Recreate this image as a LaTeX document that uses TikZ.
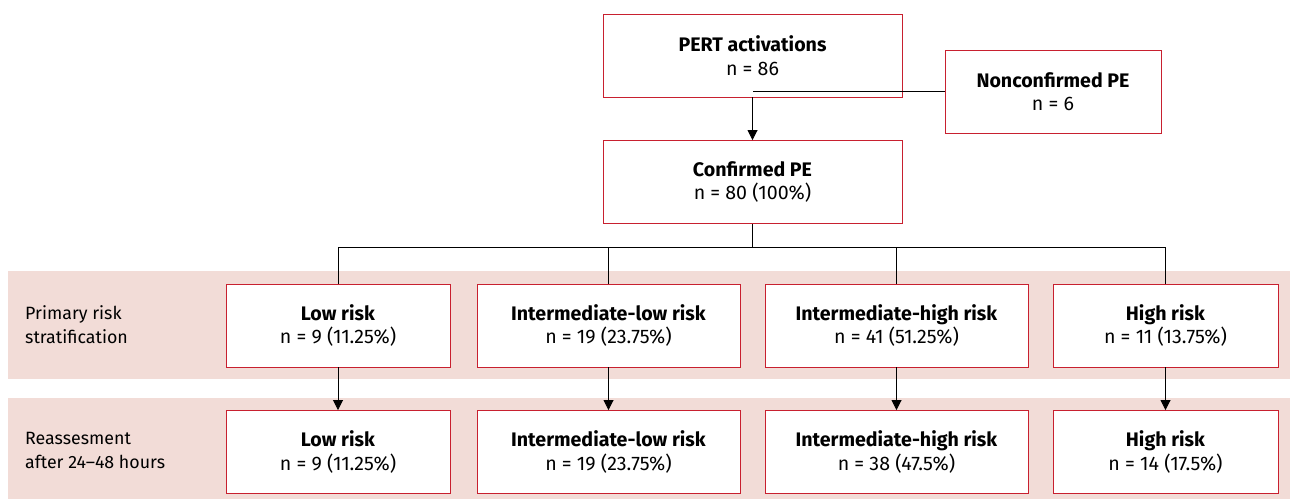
\documentclass[tikz,border=0pt]{standalone}
\usepackage{fontspec}
\setmainfont{Fira Sans}
\usetikzlibrary{arrows.meta}
\definecolor{boxred}{HTML}{C8202F}
\definecolor{bandfill}{HTML}{F2DCD7}
\begin{document}
\begin{tikzpicture}[x=1pt,y=-1pt,
  box/.style={draw=boxred, fill=white, line width=0.9pt, align=center, inner sep=0pt,
    minimum height=83pt, font=\fontsize{19.6}{23.5}\selectfont},
  band/.style={fill=bandfill, draw=none},
  lbl/.style={align=left, anchor=west, inner sep=0pt, font=\fontsize{17.8}{24}\selectfont},
  conn/.style={line width=0.8pt, draw=black},
  arr/.style={conn, -{Triangle[width=10pt,length=10pt]}}]
\useasboundingbox (0,0) rectangle (1293,499);
\fill[white] (0,0) rectangle (1293,499);
% bands
\path[band] (8,271) rectangle (1290,379);
\path[band] (8,398) rectangle (1290,499);
\node[lbl] (lab1) at (25,325) {Primary risk\\stratification};
\node[lbl] (lab2) at (25,450) {Reassesment\\after 24--48 hours};
% top boxes
\node[box, minimum width=299pt] (pert) at (752.5,55.5) {\textbf{PERT activations}\\n = 86};
\node[box, minimum width=216pt] (nc) at (1053,91.5) {\textbf{Nonconfirmed PE}\\n = 6};
\node[box, minimum width=299pt] (conf) at (752.5,182) {\textbf{Confirmed PE}\\n = 80 (100\%)};
% primary
\node[box, minimum width=224pt] (p1) at (338,325.5) {\textbf{Low risk}\\n = 9 (11.25\%)};
\node[box, minimum width=263pt] (p2) at (608.5,325.5) {\textbf{Intermediate-low risk}\\n = 19 (23.75\%)};
\node[box, minimum width=263pt] (p3) at (896.5,325.5) {\textbf{Intermediate-high risk}\\n = 41 (51.25\%)};
\node[box, minimum width=225pt] (p4) at (1165.5,325.5) {\textbf{High risk}\\n = 11 (13.75\%)};
% reassessment
\node[box, minimum width=224pt] (r1) at (338,452) {\textbf{Low risk}\\n = 9 (11.25\%)};
\node[box, minimum width=263pt] (r2) at (608.5,452) {\textbf{Intermediate-low risk}\\n = 19 (23.75\%)};
\node[box, minimum width=263pt] (r3) at (896.5,452) {\textbf{Intermediate-high risk}\\n = 38 (47.5\%)};
\node[box, minimum width=225pt] (r4) at (1165.5,452) {\textbf{High risk}\\n = 14 (17.5\%)};
% connectors
\draw[arr] (pert.south) -- (conf.north);
\draw[conn] (nc.west) -- (nc.west -| pert.south);
\coordinate (split) at (752.5,247);
\draw[conn] (conf.south) -- (split);
\draw[conn] (p1.north |- split) -- (p4.north |- split);
\draw[conn] (p1.north |- split) -- (p1.north);
\draw[conn] (p2.north |- split) -- (p2.north);
\draw[conn] (p3.north |- split) -- (p3.north);
\draw[conn] (p4.north |- split) -- (p4.north);
\draw[arr] (p1.south) -- (r1.north);
\draw[arr] (p2.south) -- (r2.north);
\draw[arr] (p3.south) -- (r3.north);
\draw[arr] (p4.south) -- (r4.north);
\end{tikzpicture}
\end{document}
